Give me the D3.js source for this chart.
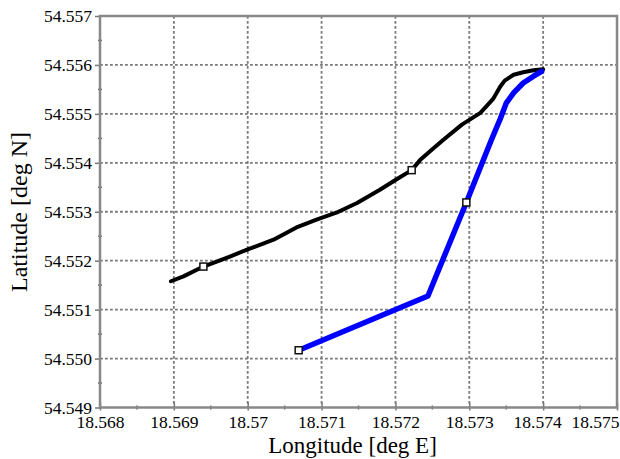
<!DOCTYPE html>
<html><head><meta charset="utf-8">
<script src="https://cdn.jsdelivr.net/npm/d3@7"></script>
<style>
html,body{margin:0;padding:0;background:#fff;}
svg{display:block;}
svg text{font-family:"Liberation Serif","DejaVu Serif",serif !important;}
</style>
</head><body>
<svg id="c" width="620" height="459"></svg>
<script>
const xTicks = [18.568,18.569,18.570,18.571,18.572,18.573,18.574,18.575];
const xTickLabels = ["18.568","18.569","18.57","18.571","18.572","18.573","18.574","18.575"];
const yTicks = [54.549,54.550,54.551,54.552,54.553,54.554,54.555,54.556,54.557];
const yTickLabels = ["54.549","54.550","54.551","54.552","54.553","54.554","54.555","54.556","54.557"];

const blackLon = [18.56896,18.56913,18.56940,18.56975,18.57000,18.57035,18.57066,18.57095,18.57120,18.57148,18.57179,18.57200,18.57222,18.57233,18.57248,18.57265,18.57290,18.57315,18.57332,18.57342,18.57348,18.57360,18.57373,18.57387,18.57400];
const blackLat = [54.55158,54.55168,54.55188,54.55208,54.55223,54.55243,54.55268,54.55285,54.55298,54.55318,54.55345,54.55365,54.55385,54.55405,54.55425,54.55447,54.55478,54.55502,54.55530,54.55556,54.55568,54.55580,54.55585,54.55589,54.55591];
const blueLon = [18.57069,18.57244,18.57296,18.57330,18.57342,18.57350,18.57360,18.57373,18.57387,18.57398];
const blueLat = [54.55017,54.55128,54.55319,54.55447,54.55490,54.55522,54.55543,54.55563,54.55577,54.55587];
const blackMarkLon = [18.56940,18.57222];
const blackMarkLat = [54.55188,54.55385];
const blueMarkLon = [18.57069,18.57296];
const blueMarkLat = [54.55017,54.55319];

const svg = d3.select("#c");
const L=100, R=617, T=16, B=407.5;
const x = d3.scaleLinear().domain([18.568,18.575]).range([L,R]);
const y = d3.scaleLinear().domain([54.549,54.557]).range([B,T]);
const font = "Liberation Serif";

// grid
const g = svg.append("g");
g.selectAll("line.vg").data(xTicks.slice(1,-1)).enter().append("line")
  .attr("x1",d=>x(d)).attr("x2",d=>x(d)).attr("y1",T).attr("y2",B)
  .attr("stroke","#7a7a7a").attr("stroke-width",1.8).attr("stroke-dasharray","2.8,2.2");
g.selectAll("line.hg").data(yTicks.slice(1,-1)).enter().append("line")
  .attr("y1",d=>y(d)).attr("y2",d=>y(d)).attr("x1",L).attr("x2",R)
  .attr("stroke","#7a7a7a").attr("stroke-width",1.8).attr("stroke-dasharray","2.8,2.2");

// axes
const xAxis = d3.axisBottom(x).tickValues(xTicks).tickSize(0).tickFormat((d,i)=>xTickLabels[i]);
const yAxis = d3.axisLeft(y).tickValues(yTicks).tickSize(5).tickFormat((d,i)=>yTickLabels[i]);
const gx = svg.append("g").attr("transform",`translate(0,${B})`).call(xAxis);
const gy = svg.append("g").attr("transform",`translate(${L},0)`).call(yAxis);
[gx,gy].forEach(a=>{a.attr("font-family",null).attr("font-size",null);
  a.select(".domain").remove();
  a.selectAll("line").attr("stroke","#777").attr("stroke-width",1.5);
  a.selectAll("text").style("font-family",font).style("font-size","17.5px").attr("fill","#000");});
gx.selectAll("text").attr("dy",0).attr("y",20.5);
gx.selectAll(".tick").filter((d,i)=>i===xTicks.length-1).select("text").attr("text-anchor","end").attr("x",2);
gx.selectAll(".tick").filter((d,i)=>i===xTicks.length-2).select("text").attr("x",-6);
gy.selectAll("text").attr("x",-8);
gx.selectAll(".tick line").attr("y1",-5).attr("y2",3);
// minor ticks
const xMinor = d3.range(0,7).map(i=>18.5685+i*0.001);
const yMinor = d3.range(0,8).map(i=>54.5495+i*0.001);
svg.selectAll("line.xm").data(xMinor).enter().append("line")
  .attr("x1",d=>x(d)).attr("x2",d=>x(d)).attr("y1",B-2).attr("y2",B+2).attr("stroke","#666").attr("stroke-width",1.5);
svg.selectAll("line.ym").data(yMinor).enter().append("line")
  .attr("y1",d=>y(d)).attr("y2",d=>y(d)).attr("x1",L-2).attr("x2",L+2).attr("stroke","#666").attr("stroke-width",1.5);

// frame
svg.append("rect").attr("x",L).attr("y",T).attr("width",R-L).attr("height",B-T)
  .attr("fill","none").attr("stroke","#888").attr("stroke-width",2.5);

// lines
const line = d3.line().x(d=>x(d[0])).y(d=>y(d[1]));
svg.append("path").datum(blackLon.map((v,i)=>[v,blackLat[i]])).attr("d",line)
  .attr("fill","none").attr("stroke","#000").attr("stroke-width",4).attr("stroke-linejoin","round").attr("stroke-linecap","round");
svg.append("path").datum(blueLon.map((v,i)=>[v,blueLat[i]])).attr("d",line)
  .attr("fill","none").attr("stroke","#0000ff").attr("stroke-width",5.5).attr("stroke-linejoin","round").attr("stroke-linecap","round");

// markers
const mk = blackMarkLon.map((v,i)=>[v,blackMarkLat[i]]).concat(blueMarkLon.map((v,i)=>[v,blueMarkLat[i]]));
svg.selectAll("rect.mk").data(mk).enter().append("rect")
  .attr("x",d=>x(d[0])-3.5).attr("y",d=>y(d[1])-3.5).attr("width",7).attr("height",7)
  .attr("fill","#fff").attr("stroke","#111").attr("stroke-width",1.5);

// titles
svg.append("text").attr("x",(L+R)/2-6).attr("y",453).attr("text-anchor","middle")
  .style("font-family",font).style("font-size","23px").attr("fill","#000").text("Longitude [deg E]");
svg.append("text").attr("transform",`translate(27,212) rotate(-90)`).attr("text-anchor","middle")
  .style("font-family",font).style("font-size","24px").attr("fill","#000").text("Latitude [deg N]");
</script>
</body></html>
